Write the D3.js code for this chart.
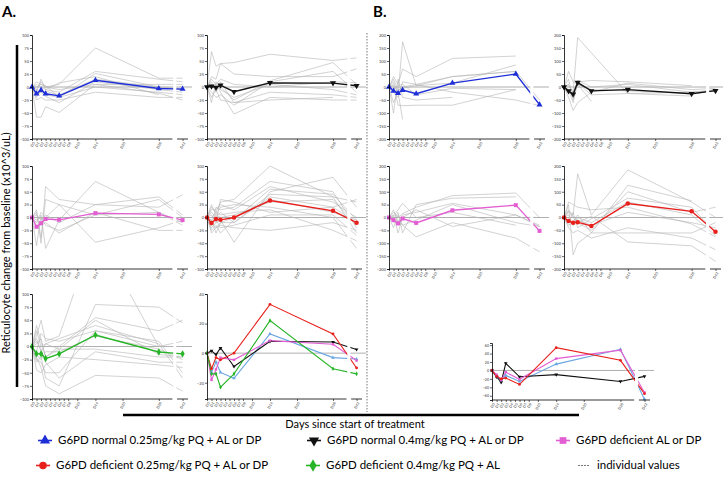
<!DOCTYPE html>
<html><head><meta charset="utf-8">
<script src="https://cdn.jsdelivr.net/npm/d3@7"></script>
<style>body{margin:0;background:#fff} svg{display:block} text{font-family:Lato,"Open Sans",sans-serif}</style>
</head><body><svg id="c" width="723" height="500"></svg>
<script>
// ---------------- DATA ----------------
const days = [0, 1, 2, 3, 6, 14, 28, 42];
const xTickValues = [0, 1, 2, 3, 4, 5, 6, 7, 8, 10, 14, 20, 28, 42];
const xTickLabels = ["D0","D1","D2","D3","D4","D5","D6","D7","D8","D10","D14","D20","D28","D42"];
const yTicks100 = [-100, -75, -50, -25, 0, 25, 50, 75, 100];
const yTicks200 = [-200, -150, -100, -50, 0, 50, 100, 150, 200];
const yTicksSumA = [-20, 0, 20, 40];
const yTicksSumB = [-60, -40, -20, 0, 20, 40, 60];
const seriesNames = ["G6PD normal 0.25mg/kg PQ + AL or DP", "G6PD normal 0.4mg/kg PQ + AL or DP",
  "G6PD deficient AL or DP", "G6PD deficient 0.25mg/kg PQ + AL or DP", "G6PD deficient 0.4mg/kg PQ + AL", "individual values"];

// group means, panel A
const meanNormal025A = [0, -13, -6, -13, -17, 13, -3, -4];
const meanNormal04A  = [0, 1.5, -1, 3.5, -9, 8, 7.5, 2.5];
const meanDefNoPQA   = [0, -18, -11, -3, -4.5, 8.5, 6, -5];
const meanDef025A    = [0, -10.5, -3, -4.5, 0, 33, 13, -10];
const meanDef04A     = [0, -14, -14, -23, -14, 22, -10.5, -14];
// group means, panel B
const meanNormal025B = [0, -15, -24, -12, -26, 15, 50, -68];
const meanNormal04B  = [0, -15, -28, 17, -15, -10, -26, -14];
const meanDefNoPQB   = [0, -10, -23, -4, -21, 28, 48, -52];
const meanDef025B    = [0, -14, -20, -18, -33, 54, 24, -55];

// individual values
const indivA1 = [
  [0, -5, 10, 0, 5, 75, 17, 17], [0, -58, -58, -38, -49, 5, -12, -25], [0, -10, 15, -5, -10, 30, 15, 10],
  [0, 0, 5, 3, -20, 26, 0, -5], [0, -15, -10, -18, -30, 10, -5, -10], [0, 5, 0, -5, 8, 20, -15, null],
  [0, -20, -5, -15, -20, 0, -10, -15], [0, 10, 5, 0, -5, 5, 5, 5], [0, -25, -20, -25, -25, -10, -20, -20],
  [0, -5, -10, -8, -15, 15, 0, -3]];
const indivA2 = [
  [0, 68, 40, 45, 47, 63, 51, 56], [0, 20, 15, 45, 25, 20, 20, 35], [0, -30, 10, -10, -52, -20, -25, -25],
  [0, 5, -5, 0, -25, 12, 47, 5], [0, -10, -20, -15, -35, 10, 30, -10], [0, 0, 5, -5, -20, 5, -5, -15],
  [0, 10, -10, 10, -30, -10, -15, -20], [0, -20, -5, -25, -30, -25, -20, null], [0, 15, 5, 15, 5, 0, 10, 8]];
const indivA3 = [
  [0, 10, -50, 60, 35, 25, 20, 44], [0, -55, 5, -60, -5, 70, 10, -15], [0, 15, -40, 35, 25, -48, -20, -5],
  [0, -10, 10, 0, 25, 5, 35, 0], [0, -20, -15, -10, -30, 10, -25, -25], [0, 5, -5, 5, -10, 25, 40, 5],
  [0, -5, 0, -15, -25, 5, 10, -10]];
const indivA4 = [
  [0, 20, 10, 30, 35, 100, 40, 30], [0, -15, 20, 15, 20, 70, 50, -20], [0, -20, -10, -5, -48, 50, 78, 20],
  [0, 10, 0, 10, -10, 45, 40, -30], [0, -30, -20, -10, -10, 40, 20, -10], [0, -5, 5, 0, 5, 30, 35, -15],
  [0, 25, 5, 20, 25, 20, 0, -60], [0, -10, -20, -15, -20, -25, -10, -25], [0, 5, -10, 35, 30, 10, 20, 35],
  [0, -25, -15, -30, -5, 55, 45, -5], [0, 0, 10, 5, 10, 15, -25, -45], [0, -15, -5, -20, -15, 5, 5, -35],
  [0, 15, 15, 25, 15, 60, 30, 0], [0, -5, -30, -10, 0, 35, 10, -5]];
const indivA5 = [
  [0, 20, 50, 10, 20, 220, 0, 10], [0, -30, -20, -60, -75, 80, 75, 45], [0, 40, 10, -20, 0, 55, 30, 50],
  [0, -20, -40, -75, -90, -55, -60, -85], [0, 15, -10, 5, -5, 50, -15, -20], [0, -10, 25, 15, 10, 30, 0, 0],
  [0, -45, -50, -35, -20, -25, -35, -40], [0, 10, -5, -30, -60, -10, -30, -30], [0, -15, -25, -10, -10, 20, -5, -25],
  [0, 5, 15, -20, -5, -5, -20, -20], [0, -25, -30, -50, -50, 30, 10, -50], [0, 30, 0, 5, 15, 40, 5, -60]];
const indivB1 = [
  [0, 20, -30, 174, 5, 40, 60, -50], [0, 40, 10, 69, 40, 110, 119, null], [0, -60, -20, -125, null, null, null, null],
  [0, 10, -70, -72, -70, -70, -10, null], [0, -20, -40, 20, 10, -20, -50, -72], [0, -100, 30, -40, -50, -40, null, null],
  [0, 30, -10, -5, 5, 15, 85, null], [0, -10, 5, 10, -30, -5, -10, null], [0, 5, -15, 0, 10, 40, 60, null]];
const indivB2 = [
  [0, 10, -20, 190, null, -25, -20, -15], [0, 60, 20, 10, -55, null, null, null], [0, -40, -90, -60, -20, 15, -10, -5],
  [0, 30, -50, 20, 25, 20, 5, null], [0, -20, -30, 10, -10, -15, -25, -15], [0, 5, -20, 25, 0, 10, -20, -10],
  [0, -10, -60, 15, -30, -25, -35, null]];
const indivB3 = [
  [0, 20, 0, 15, 40, 85, 95, 0], [0, -10, 20, -60, 50, 75, 80, null], [0, 30, -20, 10, 20, 55, 10, -35],
  [0, -40, 10, -30, -75, -20, -80, -133], [0, 10, -60, 0, 30, -35, 10, -30], [0, -20, -10, -30, -10, 50, -20, -35],
  [0, 5, 30, 55, 0, 20, -30, null]];
const indivB4 = [
  [0, 30, 10, 170, 10, 185, 60, 0], [0, 50, -145, -100, -60, 125, 65, null], [0, -20, 20, -40, -5, 75, 40, -60],
  [0, 10, -30, 0, -20, 60, 10, -70], [0, 60, 50, 40, 30, 40, -25, -75], [0, -40, -60, -50, -80, -40, -80, -125],
  [0, 20, 0, -20, 5, -95, -110, -170], [0, -10, -30, -20, -50, 100, 20, 40], [0, 25, 5, -10, -30, 20, -20, -40],
  [0, -30, -20, 10, -60, -60, -60, -20]];

// ---------------- STYLE / LAYOUT ----------------
const C = {blue:"#1f2fd8", blueLt:"#6aa6e2", black:"#111111", pink:"#e35ed3", red:"#e8201c", green:"#27b527", grey:"#b4b4b4"};
const SYM = {blue:"up", black:"down", pink:"square", red:"circle", green:"diamond"};
const svg = d3.select("#c");

function symPath(kind, size) {
  const t = {up:d3.symbolTriangle, down:d3.symbolTriangle, square:d3.symbolSquare, circle:d3.symbolCircle, diamond:d3.symbolDiamond}[kind];
  return d3.symbol().type(t).size(size)();
}
let clipId = 0;
function panel(cfg) {
  const {x0, x1, y0, y1, dom, yt} = cfg;
  const w = x1 - x0;
  const x = d3.scaleLinear().domain([0, 31, 41, 43]).range([x0, x0 + 0.90 * w, x0 + 0.93 * w, x1]);
  const y = d3.scaleLinear().domain(dom).range([y1, y0]);
  const g = svg.append("g");
  const id = "cp" + (clipId++);
  svg.append("clipPath").attr("id", id).append("rect").attr("x", x0).attr("y", y0).attr("width", w + 6).attr("height", y1 - y0);
  const pg = g.append("g").attr("clip-path", `url(#${id})`);
  pg.append("line").attr("x1", x0).attr("x2", x1 + 4).attr("y1", y(0)).attr("y2", y(0)).attr("stroke", "#9a9a9a").attr("stroke-width", 0.8);
  const line = d3.line().x(d => x(d[0])).y(d => y(d[1]));
  const pts = arr => days.map((d, i) => [d, arr[i]]).filter(p => p[1] != null);
  (cfg.indiv || []).forEach(arr => {
    pg.append("path").attr("d", line(pts(arr))).attr("fill", "none").attr("stroke", C.grey).attr("stroke-width", 0.6);
  });
  cfg.series.forEach(s => {
    pg.append("path").attr("d", line(pts(s.values))).attr("fill", "none").attr("stroke", s.color).attr("stroke-width", cfg.summary ? 1.1 : 1.4);
  });
  // axis break gap
  g.append("rect").attr("x", x0 + 0.905 * w).attr("y", y0 - 2).attr("width", 0.02 * w).attr("height", y1 - y0 + 2).attr("fill", "#fff");
  cfg.series.forEach(s => {
    pts(s.values).forEach(p => {
      g.append("path").attr("d", symPath(s.sym, cfg.summary ? 6 : 16))
        .attr("transform", `translate(${x(p[0])},${y(p[1])})` + (s.sym === "down" ? " rotate(180)" : ""))
        .attr("fill", s.color);
    });
  });
  // y axis
  const ya = g.append("g").attr("transform", `translate(${x0},0)`).call(d3.axisLeft(y).tickValues(yt).tickSize(2).tickPadding(1));
  ya.select(".domain").attr("stroke-width", 0.8);
  ya.selectAll("text").attr("font-size", cfg.small ? 3.6 : 4).attr("fill", "#333");
  ya.selectAll(".tick line").attr("stroke-width", 0.6);
  // x axis
  const xa = g.append("g").attr("transform", `translate(0,${y1})`)
    .call(d3.axisBottom(x).tickValues(xTickValues).tickSize(2).tickPadding(1).tickFormat((d, i) => xTickLabels[i]));
  xa.select(".domain").remove();
  xa.append("line").attr("x1", x0).attr("x2", x(31)).attr("stroke", "#000").attr("stroke-width", 0.8);
  xa.append("line").attr("x1", x(41)).attr("x2", x1).attr("stroke", "#000").attr("stroke-width", 0.8);
  xa.selectAll(".tick line").attr("stroke-width", 0.6);
  xa.selectAll("text").attr("font-size", 3.6).attr("fill", "#333").attr("text-anchor", "end")
    .attr("transform", "translate(-1,2) rotate(-60)").attr("dy", "0.3em");
}

const colA1 = [32, 188], colA2 = [207, 362], colB1 = [389, 545], colB2 = [564, 721];
const rows = [[35, 139], [166, 269], [294, 399]];
const S = (values, c) => ({values, color: C[c], sym: SYM[c]});

panel({x0: colA1[0], x1: colA1[1], y0: rows[0][0], y1: rows[0][1], dom: [-100, 100], yt: yTicks100, indiv: indivA1, series: [S(meanNormal025A, "blue")]});
panel({x0: colA2[0], x1: colA2[1], y0: rows[0][0], y1: rows[0][1], dom: [-100, 100], yt: yTicks100, indiv: indivA2, series: [S(meanNormal04A, "black")]});
panel({x0: colB1[0], x1: colB1[1], y0: rows[0][0], y1: rows[0][1], dom: [-200, 200], yt: yTicks200, indiv: indivB1, series: [S(meanNormal025B, "blue")]});
panel({x0: colB2[0], x1: colB2[1], y0: rows[0][0], y1: rows[0][1], dom: [-200, 200], yt: yTicks200, indiv: indivB2, series: [S(meanNormal04B, "black")]});
panel({x0: colA1[0], x1: colA1[1], y0: rows[1][0], y1: rows[1][1], dom: [-100, 100], yt: yTicks100, indiv: indivA3, series: [S(meanDefNoPQA, "pink")]});
panel({x0: colA2[0], x1: colA2[1], y0: rows[1][0], y1: rows[1][1], dom: [-100, 100], yt: yTicks100, indiv: indivA4, series: [S(meanDef025A, "red")]});
panel({x0: colB1[0], x1: colB1[1], y0: rows[1][0], y1: rows[1][1], dom: [-200, 200], yt: yTicks200, indiv: indivB3, series: [S(meanDefNoPQB, "pink")]});
panel({x0: colB2[0], x1: colB2[1], y0: rows[1][0], y1: rows[1][1], dom: [-200, 200], yt: yTicks200, indiv: indivB4, series: [S(meanDef025B, "red")]});
panel({x0: colA1[0], x1: colA1[1], y0: rows[2][0], y1: rows[2][1], dom: [-100, 100], yt: yTicks100, indiv: indivA5, series: [S(meanDef04A, "green")]});
panel({x0: colA2[0], x1: colA2[1], y0: rows[2][0], y1: rows[2][1], dom: [-31, 40], yt: yTicksSumA, summary: true,
  series: [{values: meanNormal025A, color: C.blueLt, sym: "up"}, S(meanNormal04A, "black"), S(meanDefNoPQA, "pink"), S(meanDef025A, "red"), S(meanDef04A, "green")]});
panel({x0: 492, x1: 650, y0: 343, y1: 400, dom: [-70, 65], yt: yTicksSumB, summary: true, small: true,
  series: [{values: meanNormal025B, color: C.blueLt, sym: "up"}, S(meanNormal04B, "black"), S(meanDefNoPQB, "pink"), S(meanDef025B, "red")]});

// ---------------- FRAME / LABELS ----------------
svg.append("text").attr("x", 2).attr("y", 17).attr("font-size", 15).attr("font-weight", "bold").text("A.");
svg.append("text").attr("x", 373).attr("y", 17).attr("font-size", 15).attr("font-weight", "bold").text("B.");
svg.append("line").attr("x1", 17).attr("x2", 17).attr("y1", 45).attr("y2", 387).attr("stroke", "#000").attr("stroke-width", 2.5);
svg.append("text").attr("transform", "translate(10,243) rotate(-90)").attr("text-anchor", "middle").attr("font-size", 11)
  .text("Reticulocyte change from baseline (x10^3/uL)");
svg.append("line").attr("x1", 367).attr("x2", 367).attr("y1", 33).attr("y2", 412).attr("stroke", "#777").attr("stroke-width", 1).attr("stroke-dasharray", "1.5,1.5");
svg.append("line").attr("x1", 123).attr("x2", 579).attr("y1", 415).attr("y2", 415).attr("stroke", "#000").attr("stroke-width", 2.5);
svg.append("text").attr("x", 355).attr("y", 428).attr("text-anchor", "middle").attr("font-size", 11).text("Days since start of treatment");

// legend
const legendItems = [
  {c: "blue", x: 45, y: 444, name: seriesNames[0]},
  {c: "black", x: 314, y: 444, name: seriesNames[1]},
  {c: "pink", x: 563, y: 444, name: seriesNames[2]},
  {c: "red", x: 43, y: 469, name: seriesNames[3]},
  {c: "green", x: 313, y: 469, name: seriesNames[4]},
  {c: "grey", x: 584, y: 469, name: seriesNames[5]}
];
legendItems.forEach(it => {
  const g = svg.append("g");
  if (it.c === "grey") {
    g.append("line").attr("x1", it.x - 6).attr("x2", it.x + 6).attr("y1", it.y - 3.5).attr("y2", it.y - 3.5).attr("stroke", "#555").attr("stroke-width", 0.8).attr("stroke-dasharray", "2,1");
  } else {
    g.append("line").attr("x1", it.x - 7).attr("x2", it.x + 7).attr("y1", it.y - 3.5).attr("y2", it.y - 3.5).attr("stroke", C[it.c]).attr("stroke-width", 1.6);
    g.append("path").attr("d", symPath(SYM[it.c], 45)).attr("fill", C[it.c])
      .attr("transform", `translate(${it.x},${it.y - 3.5})` + (SYM[it.c] === "down" ? " rotate(180)" : ""));
  }
  g.append("text").attr("x", it.x + 13).attr("y", it.y).attr("font-size", 11.5).text(it.name);
});
</script></body></html>
